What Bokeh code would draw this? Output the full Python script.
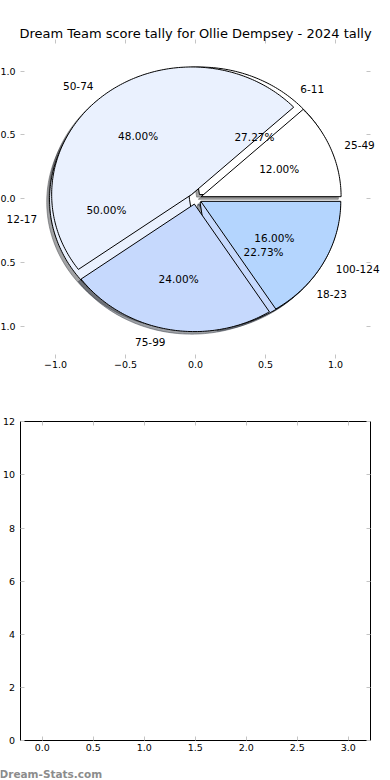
import math
from bokeh.plotting import figure
from bokeh.layouts import column
from bokeh.models import Range1d, LinearAxis, FixedTicker, Label, CustomJSTickFormatter
from bokeh.embed import file_html
from bokeh.resources import INLINE

# ---------------- data ----------------
TITLE = "Dream Team score tally for Ollie Dempsey - 2024 tally"

pie_a_labels = ["6-11", "12-17", "18-23"]
pie_a_counts = [6, 11, 5]

pie_b_labels = ["25-49", "50-74", "75-99", "100-124"]
pie_b_counts = [3, 12, 6, 4]

slice_colors = ["#ffffff", "#eaf1fe", "#c6d9fd", "#b4d5fe"]

pie_ticks = [-1.0, -0.5, 0.0, 0.5, 1.0]
lower_x_ticks = [0.0, 0.5, 1.0, 1.5, 2.0, 2.5, 3.0]
lower_y_ticks = [0, 2, 4, 6, 8, 10, 12]

WATERMARK = "Dream-Stats.com"

# ---------------- style / layout ----------------
FONT = "DejaVu Sans"
EXPLODE = 0.043
RADIUS = 1.0
SHADOW_OFFSET = -0.02
LABEL_DIST = 1.1
PCT_DIST = 0.6
TICK_GREY = "#c4c4c4"
W, H = 390, 390

# top panel: axes box is [-1.25, 1.25]^2; canvas covers a little more
PIE_LIM = 1.25
TOP_X0, TOP_SX = 195.0, 140.0      # pixel of x=0, px per unit
TOP_Y0, TOP_SY = 198.2, 127.5      # pixel of y=0, px per unit
# bottom panel
BOT_XLIM = (-0.216, 3.216)
BOT_YLIM = (0, 12)
BOT_X0, BOT_SX = 41.7, 102.0
BOT_Y0, BOT_SY = 350.3, 26.583     # y=0 pixel measured from top of bottom canvas


def pie_geometry(counts):
    total = float(sum(counts))
    out = []
    theta1 = 0.0
    for c in counts:
        frac = c / total
        theta2 = theta1 + frac
        thetam = math.pi * (theta1 + theta2)
        cx = EXPLODE * RADIUS * math.cos(thetam)
        cy = EXPLODE * RADIUS * math.sin(thetam)
        n = max(int(360 * frac), 4)
        angs = [2 * math.pi * (theta1 + (theta2 - theta1) * i / n) for i in range(n + 1)]
        xs = [cx] + [cx + RADIUS * math.cos(a) for a in angs]
        ys = [cy] + [cy + RADIUS * math.sin(a) for a in angs]
        out.append(dict(xs=xs, ys=ys, cx=cx, cy=cy, thetam=thetam, frac=frac))
        theta1 = theta2
    return out


def shade(hex_color):
    h = hex_color.lstrip("#")
    r, g, b = (int(h[i:i + 2], 16) for i in (0, 2, 4))
    return "#%02x%02x%02x" % (int(r * 0.3), int(g * 0.3), int(b * 0.3))


def style_axis(ax, ticks, loc, show_labels, standoff, fmt_code, line_color=None, bounds="auto"):
    ax.ticker = FixedTicker(ticks=ticks)
    ax.formatter = CustomJSTickFormatter(code=fmt_code)
    ax.fixed_location = loc
    ax.bounds = bounds
    ax.axis_line_color = line_color
    ax.axis_line_width = 1
    ax.major_tick_in = 4
    ax.major_tick_out = 0
    ax.major_tick_line_color = TICK_GREY
    ax.major_tick_line_width = 1
    ax.minor_tick_line_color = None
    ax.major_label_text_font = FONT
    ax.major_label_text_font_size = "9.5px"
    ax.major_label_text_color = "#000000" if show_labels else None
    ax.major_label_standoff = standoff


FMT1 = "return tick.toFixed(1).replace('-', '\u2212');"
FMT0 = "return tick.toFixed(0);"


def make_fig(xr, yr):
    f = figure(width=W, height=H, x_range=Range1d(*xr), y_range=Range1d(*yr),
               output_backend="svg", toolbar_location=None, min_border=0,
               min_border_left=0, min_border_right=0, min_border_top=0, min_border_bottom=0,
               outline_line_color=None, background_fill_color="white",
               border_fill_color="white")
    f.grid.visible = False
    return f


# ---------------- top: pie ----------------
p1 = make_fig((-TOP_X0 / TOP_SX, (W - TOP_X0) / TOP_SX),
              (-(H - TOP_Y0) / TOP_SY, TOP_Y0 / TOP_SY))
style_axis(p1.xaxis[0], pie_ticks, -PIE_LIM, True, 3, FMT1)
style_axis(p1.yaxis[0], pie_ticks, -PIE_LIM, True, 5, FMT1)
ax_top = LinearAxis()
p1.add_layout(ax_top, "above")
style_axis(ax_top, pie_ticks, PIE_LIM, False, 0, FMT1)
ax_right = LinearAxis()
p1.add_layout(ax_right, "right")
style_axis(ax_right, pie_ticks, PIE_LIM, False, 0, FMT1)

pies = [(pie_a_labels, pie_a_counts), (pie_b_labels, pie_b_counts)]
geoms = [pie_geometry(c) for _, c in pies]

# shadows (beneath every wedge)
for geom in geoms:
    for i, w in enumerate(geom):
        sc = shade(slice_colors[i])
        p1.patch([x + SHADOW_OFFSET for x in w["xs"]], [y + SHADOW_OFFSET for y in w["ys"]],
                 fill_color=sc, fill_alpha=0.5, line_color=sc, line_alpha=0.5, line_width=1)

# wedges
for geom in geoms:
    for i, w in enumerate(geom):
        p1.patch(w["xs"], w["ys"], fill_color=slice_colors[i], line_color="black", line_width=1)

# texts
for (labels, counts), geom in zip(pies, geoms):
    for lab, w in zip(labels, geom):
        xt = w["cx"] + LABEL_DIST * RADIUS * math.cos(w["thetam"])
        yt = w["cy"] + LABEL_DIST * RADIUS * math.sin(w["thetam"])
        p1.add_layout(Label(x=xt, y=yt, text=lab, text_align="left" if xt > 0 else "right",
                            text_baseline="middle", text_font=FONT, text_font_size="10.5px",
                            text_color="black"))
        xp = w["cx"] + PCT_DIST * RADIUS * math.cos(w["thetam"])
        yp = w["cy"] + PCT_DIST * RADIUS * math.sin(w["thetam"])
        p1.add_layout(Label(x=xp, y=yp, text="%.2f%%" % (100.0 * w["frac"]), text_align="center",
                            text_baseline="middle", text_font=FONT, text_font_size="10.5px",
                            text_color="black"))

p1.add_layout(Label(x=0.0, y=(TOP_Y0 - 33.3) / TOP_SY, text=TITLE, text_align="center",
                    text_baseline="alphabetic", text_font=FONT, text_font_size="13px",
                    text_color="black"))

# ---------------- bottom: empty axes ----------------
p2 = make_fig((-BOT_X0 / BOT_SX, (W - BOT_X0) / BOT_SX),
              (-(H - BOT_Y0) / BOT_SY, BOT_Y0 / BOT_SY))
style_axis(p2.xaxis[0], lower_x_ticks, BOT_YLIM[0], True, 3, FMT1, "black", BOT_XLIM)
style_axis(p2.yaxis[0], lower_y_ticks, BOT_XLIM[0], True, 5, FMT0, "black", BOT_YLIM)
ax2_top = LinearAxis()
p2.add_layout(ax2_top, "above")
style_axis(ax2_top, lower_x_ticks, BOT_YLIM[1], False, 0, FMT1, "black", BOT_XLIM)
ax2_right = LinearAxis()
p2.add_layout(ax2_right, "right")
style_axis(ax2_right, lower_y_ticks, BOT_XLIM[1], False, 0, FMT0, "black", BOT_YLIM)

p2.add_layout(Label(x=(-1 - BOT_X0) / BOT_SX, y=-(383.7 - BOT_Y0) / BOT_SY, text=WATERMARK,
                    text_align="left", text_baseline="alphabetic", text_font=FONT,
                    text_font_size="10.5px", text_font_style="bold", text_color="#8c8c8c"))

layout = column(p1, p2)

open("out.html", "w").write(file_html(layout, INLINE))
